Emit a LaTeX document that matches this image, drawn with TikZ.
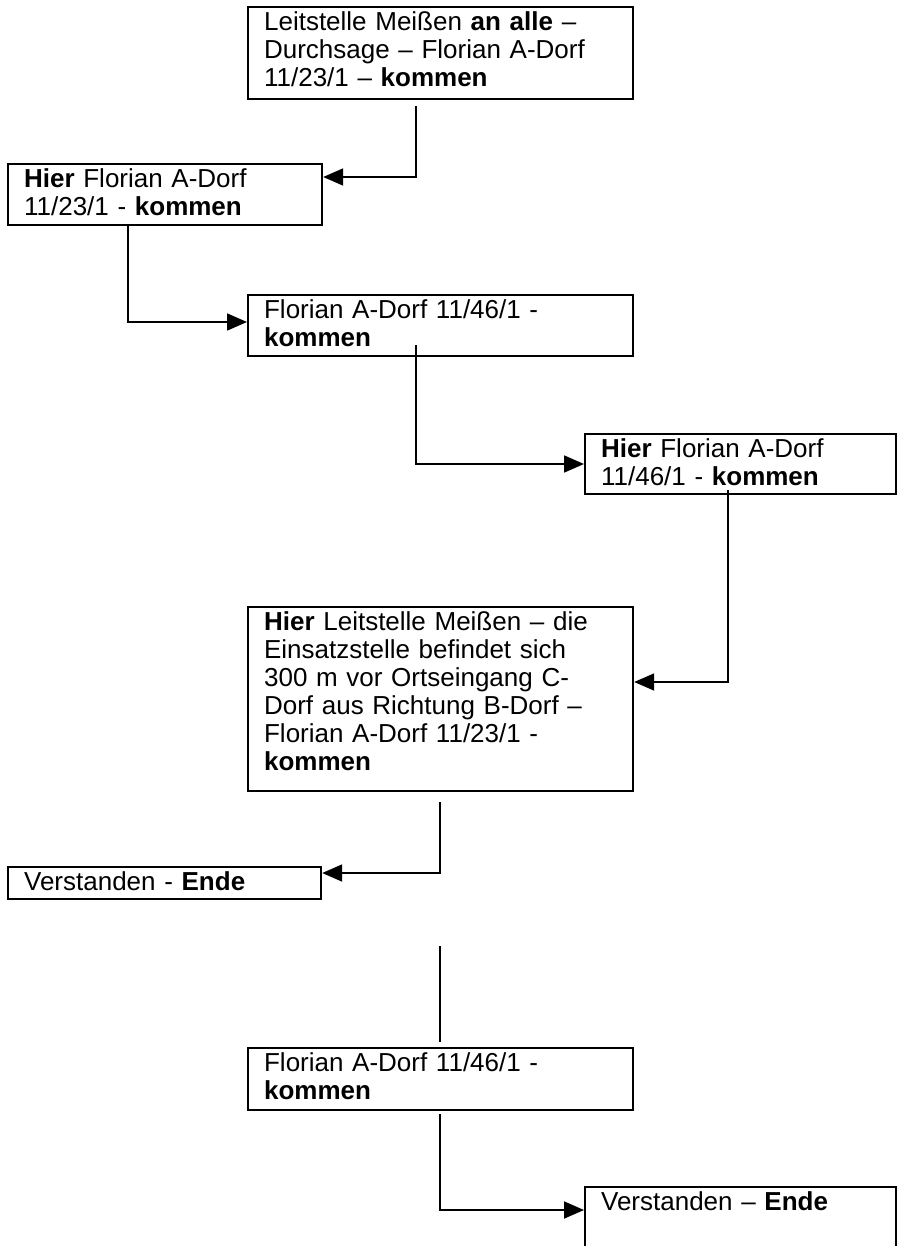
\documentclass[tikz,border=0pt]{standalone}
\usepackage{fontspec}
\setmainfont{Liberation Sans}
\usepackage{tikz}
\usetikzlibrary{
    arrows.meta,
    calc,
    positioning
}
\tikzset{
    msg/.style={draw, line width=1.1pt, anchor=north west, align=left,
        inner xsep=8pt, inner ysep=2.5pt, text height=9pt,
        font=\fontsize{13}{14}\selectfont},
    link/.style={line width=0.9pt, -{Triangle[length=10pt, width=8.5pt]}},
    plain/.style={line width=0.9pt}
}

\begin{document}
\begin{tikzpicture}[x=0.5pt, y=-0.5pt]
                        \useasboundingbox (0, 0) rectangle (897, 1246);

                        \node[msg, text width=176.5pt, text depth=32pt] (lst1) at (247, 6)
                        {Leitstelle Meißen \textbf{an alle} –\\Durchsage – Florian A-Dorf\\11/23/1 – \textbf{kommen}};
                        \node[msg, text width=141pt, text depth=16.5pt] (fl231) at (7, 163)
                        {\textbf{Hier} Florian A-Dorf\\11/23/1 - \textbf{kommen}};
                        \node[msg, text width=176.5pt, text depth=16.5pt] (fl461) at (247, 294)
                        {Florian A-Dorf 11/46/1 -\\\textbf{kommen}};
                        \node[msg, text width=139.5pt, text depth=16pt] (fl462) at (584, 433)
                        {\textbf{Hier} Florian A-Dorf\\11/46/1 - \textbf{kommen}};
                        \node[msg, text width=176.5pt, text depth=78pt] (lst2) at (247, 606)
                        {\textbf{Hier} Leitstelle Meißen – die\\Einsatzstelle befindet sich\\300 m vor Ortseingang C-\\Dorf aus Richtung B-Dorf –\\Florian A-Dorf 11/23/1 -\\\textbf{kommen}};
                        \node[msg, text width=140.5pt, text depth=2pt] (end1) at (7, 866)
                        {Verstanden - \textbf{Ende}};
                        \node[msg, text width=176.5pt, text depth=17pt] (fl463) at (247, 1047)
                        {Florian A-Dorf 11/46/1 -\\\textbf{kommen}};
                        \node[msg, text width=139.5pt, text depth=42.5pt] (end2) at (584, 1186)
                        {Verstanden – \textbf{Ende}};

                        \coordinate (s1) at (416, 106);
                        \coordinate (t1) at (0, 177);
                        \coordinate (s2) at (128, 225);
                        \coordinate (t2) at (0, 322);
                        \coordinate (s3) at (416, 345);
                        \coordinate (t3) at (0, 464);
                        \coordinate (s4) at (728, 490);
                        \coordinate (t4) at (0, 682);
                        \coordinate (s5) at (440, 802);
                        \coordinate (t5) at (0, 873);
                        \coordinate (g1) at (440, 946);
                        \coordinate (g2) at (440, 1042);
                        \coordinate (s7) at (440, 1114);
                        \coordinate (t7) at (0, 1210);

                        \draw[link] (s1) |- (fl231.east |- t1);
                        \draw[link] (s2) |- (fl461.west |- t2);
                        \draw[link] (s3) |- (fl462.west |- t3);
                        \draw[link] (s4) |- (lst2.east |- t4);
                        \draw[link] (s5) |- (end1.east |- t5);
                        \draw[plain] (g1) -- (g2);
                        \draw[link] (s7) |- (end2.west |- t7);
                    \end{tikzpicture}
\end{document}
